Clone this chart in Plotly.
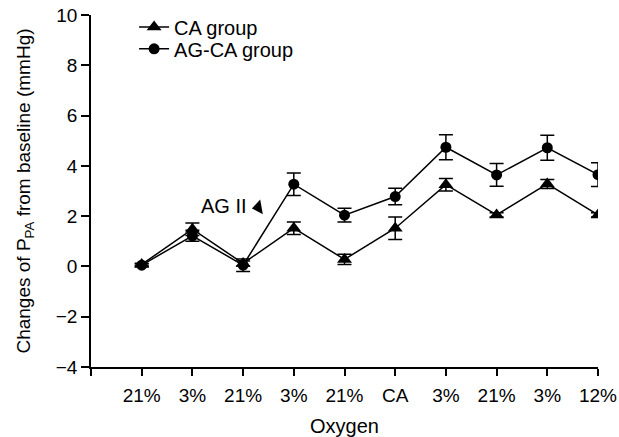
import plotly.graph_objects as go

# Oxygen challenge sequence (x positions 1..10)
oxygen_labels = ["21%", "3%", "21%", "3%", "21%", "CA", "3%", "21%", "3%", "12%"]
positions = list(range(1, 11))

# Change of pulmonary arterial pressure from baseline (mmHg), mean and SEM
ca_mean = [0.08, 1.48, 0.12, 1.52, 0.28, 1.52, 3.25, 2.05, 3.28, 2.05]
ca_err = [0.05, 0.25, 0.10, 0.25, 0.20, 0.45, 0.25, 0.08, 0.18, 0.08]

agca_mean = [0.05, 1.22, 0.05, 3.27, 2.04, 2.78, 4.74, 3.64, 4.72, 3.65]
agca_err = [0.05, 0.22, 0.25, 0.45, 0.27, 0.33, 0.50, 0.45, 0.50, 0.47]

# Annotation marking angiotensin II administration
ag_label = "AG II"
ag_label_pos = (2.63, 2.4)
ag_arrow_pos = (3.3, 2.35)

font_family = "Liberation Sans, Arial, sans-serif"
black = "#000000"

fig = go.Figure()

fig.add_trace(go.Scatter(
    x=positions, y=ca_mean, name="CA group", mode="lines+markers",
    line=dict(color=black, width=1.5),
    marker=dict(symbol="triangle-up", size=13, color=black),
    error_y=dict(type="data", array=ca_err, visible=True,
                 color=black, thickness=1.5, width=7),
    legend="legend",
))

fig.add_trace(go.Scatter(
    x=positions, y=agca_mean, name="AG-CA group", mode="lines+markers",
    line=dict(color=black, width=1.5),
    marker=dict(symbol="circle", size=11, color=black),
    error_y=dict(type="data", array=agca_err, visible=True,
                 color=black, thickness=1.5, width=7),
    legend="legend2",
))

# Arrowhead pointing at the AG II injection step
fig.add_trace(go.Scatter(
    x=[ag_arrow_pos[0]], y=[ag_arrow_pos[1]], mode="markers",
    marker=dict(symbol="triangle-left", size=13, color=black, angle=-10),
    showlegend=False, hoverinfo="skip",
))

fig.add_annotation(
    x=ag_label_pos[0], y=ag_label_pos[1], text=ag_label, showarrow=False,
    font=dict(family=font_family, size=20, color=black),
)

legend_style = dict(
    x=0.085, xanchor="left", yanchor="middle",
    bgcolor="rgba(0,0,0,0)", font=dict(size=20),
)

fig.update_layout(
    width=619, height=437,
    margin=dict(l=91, r=21, t=15, b=70, autoexpand=False),
    paper_bgcolor="white", plot_bgcolor="white",
    font=dict(family=font_family, size=19, color=black),
    showlegend=True,
    legend=dict(y=0.966, **legend_style),
    legend2=dict(y=0.904, **legend_style),
    xaxis=dict(
        range=[0, 10], tickvals=positions, ticktext=oxygen_labels,
        showline=True, linecolor=black, linewidth=1.5,
        ticks="outside", ticklen=7, tickwidth=1.5, tickcolor=black,
        ticklabelstandoff=3,
        minor=dict(tickvals=[0], ticks="outside", ticklen=7,
                   tickwidth=1.5, tickcolor=black, showgrid=False),
        showgrid=False, zeroline=False, automargin=False,
        title=dict(text="Oxygen", font=dict(size=20), standoff=16),
    ),
    yaxis=dict(
        range=[-4, 10], tickvals=[-4, -2, 0, 2, 4, 6, 8, 10],
        showline=True, linecolor=black, linewidth=1.5,
        ticks="outside", ticklen=8, tickwidth=1.5, tickcolor=black,
        showgrid=False, zeroline=False, automargin=False,
        title=dict(text="Changes of P<sub>PA</sub> from baseline (mmHg)",
                   font=dict(size=19), standoff=20),
    ),
)

fig.write_html("out.html")
